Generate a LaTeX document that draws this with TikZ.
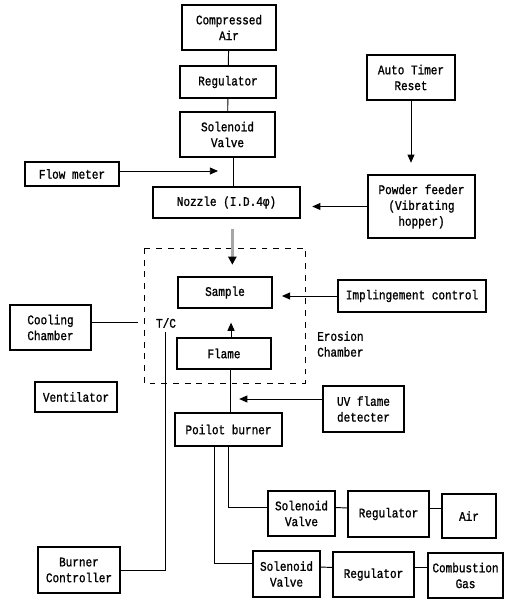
\documentclass[tikz,border=0pt]{standalone}
\usepackage{fontspec}
\setmonofont{Liberation Mono}[FakeStretch=0.84, FakeBold=1.2]
\usetikzlibrary{arrows.meta,calc}
\tikzset{
  blk/.style={draw, line width=0.9pt, align=center, inner sep=0pt,
    font=\ttfamily\fontsize{11.2}{13.5}\selectfont},
  sz/.style 2 args={minimum width=#1*0.03cm, minimum height=#2*0.03cm},
  txt/.style={align=left, inner sep=0pt, font=\ttfamily\fontsize{11.2}{13.5}\selectfont},
  pipe/.style={line width=0.8pt},
  feed/.style={line width=0.8pt, -{Triangle[width=6pt,length=7pt]}},
}
\begin{document}
\begin{tikzpicture}[x=0.03cm, y=-0.03cm]
        \useasboundingbox (0,0) rectangle (506,600);
        % Air supply
        \node[blk, sz={94}{45}] (cair) at (229,27.5) {Compressed\\Air};
        \node[blk, sz={96}{32}] (reg) at (228,82) {Regulator};
        \node[blk, sz={95}{45}] (sol) at (227.5,134.5) {Solenoid\\Valve};
        \node[blk, sz={94}{24}] (flow) at (72,174) {Flow meter};
        \node[blk, sz={147}{31}] (noz) at (226.5,202.5) {Nozzle (I.D.4φ)};
        % Powder
        \node[blk, sz={88}{45}] (timer) at (411,77.5) {Auto Timer\\Reset};
        \node[blk, sz={107}{63}] (feeder) at (421.5,206.5) {Powder feeder\\(Vibrating\\hopper)};
        % Chamber
        \node[blk, sz={94}{31}] (sample) at (225,292.5) {Sample};
        \node[blk, sz={94}{31}] (flame) at (224,353.5) {Flame};
        \node[blk, sz={148}{32}] (impl) at (412,296) {Implingement control};
        \draw[line width=0.8pt, dash pattern=on 5pt off 5pt] (144,248) rectangle (305,383);
        \node[txt, anchor=west] (ech) at (317,344) {Erosion\\Chamber};
        \node[txt] (tc) at (166,323) {T/C};
        % Left side
        \node[blk, sz={81}{45}] (cool) at (50.5,327.5) {Cooling\\Chamber};
        \node[blk, sz={82}{30}] (vent) at (76,397) {Ventilator};
        \node[blk, sz={82}{46}] (bctl) at (79,570) {Burner\\Controller};
        % Burner
        \node[blk, sz={107}{33}] (pilot) at (228.5,429.5) {Poilot burner};
        \node[blk, sz={81}{46}] (uv) at (363.5,409) {UV flame\\detecter};
        \node[blk, sz={67}{45}] (sol2) at (301.5,513.5) {Solenoid\\Valve};
        \node[blk, sz={81}{46}] (reg2) at (388.5,514) {Regulator};
        \node[blk, sz={54}{44}] (air) at (469,516) {Air};
        \node[blk, sz={67}{46}] (sol3) at (286.5,574) {Solenoid\\Valve};
        \node[blk, sz={81}{45}] (reg3) at (373.5,574.5) {Regulator};
        \node[blk, sz={75}{45}] (gas) at (465.5,575.5) {Combustion\\Gas};

        \coordinate (fm) at (218,171);
        \coordinate (cc) at (138,322);
        \coordinate (tcl) at (165,332);

        % Air line
        \draw[pipe] (cair) -- (reg);
        \draw[pipe] (reg) -- (sol);
        \draw[pipe] ([xshift=5]sol.south) -- ([xshift=5]sol.south |- noz.north);
        \draw[feed] (flow.east |- fm) -- (fm);
        % Powder line
        \draw[feed, shorten >=10] (timer) -- (timer |- feeder.north);
        \draw[feed, shorten >=10] (feeder.west) -- (feeder.west -| noz.east);
        \draw[line width=2pt, gray!70, -{Triangle[black,width=7pt,length=7pt]},
          shorten <=9, shorten >=10] ([xshift=5]noz.south) -- ([xshift=5]noz.south |- sample.north);
        \draw[feed, shorten >=8] (impl.west) -- (impl.west -| sample.east);
        % Flame
        \draw[feed, shorten >=12] ([xshift=6]flame.north) -- ([xshift=6]flame.north |- sample.south);
        \draw[pipe] ([xshift=2]pilot.north) -- ([xshift=2]pilot.north |- flame.south);
        \draw[feed, shorten >=4] (uv.west |- 0,399) -- ($(pilot.north |- 0,399)+(6,0)$);
        % Cooling and T/C
        \draw[pipe] (cool.east |- cc) -- (cc);
        \draw[pipe] (tcl) |- (bctl.east);
        % Gas lines
        \draw[pipe] (pilot.south) |- ($(sol2.west)+(0,-6)$);
        \draw[pipe] ($(pilot.south)+(-14,0)$) |- ($(sol3.west)+(0,-11)$);
        \draw[pipe] ($(sol2.east)+(0,-6)$) -- ($(reg2.west)+(0,-6)$);
        \draw[pipe] ($(reg2.east)+(0,-6)$) -- ($(air.west)+(0,-8)$);
        \draw[pipe] ($(sol3.east)+(0,-7)$) -- ($(reg3.west)+(0,-7)$);
        \draw[pipe] ($(reg3.east)+(0,-7)$) -- ($(gas.west)+(0,-8)$);
\end{tikzpicture}
\end{document}
